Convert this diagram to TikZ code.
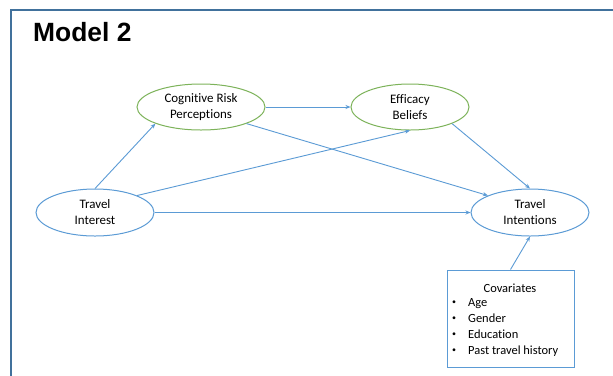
\documentclass[tikz,border=0pt]{standalone}
\usepackage{fontspec}
\setmainfont{Carlito}[Ligatures={NoCommon,NoRequired}]
\newfontfamily\titlefont{Liberation Sans}
\usetikzlibrary{shapes.geometric,arrows.meta}
\definecolor{framec}{HTML}{41719C}
\definecolor{greenc}{HTML}{7DB35A}
\definecolor{bluec}{HTML}{5B9BD5}
\newcommand{\smbul}{\raisebox{1.6bp}{\fontsize{8}{8}\selectfont\textbullet}}
\begin{document}
\begin{tikzpicture}[x=1bp,y=-1bp,
  oval/.style={ellipse, draw, line width=1bp, inner sep=0pt, align=center,
    font=\fontsize{13}{16}\selectfont},
  goval/.style={oval, draw=greenc},
  boval/.style={oval, draw=bluec},
  conn/.style={draw=bluec, line width=0.9bp, -{Stealth[length=5bp,width=4bp]}},
  covbox/.style={draw=bluec, line width=1bp, minimum width=127bp, minimum height=97bp, inner sep=0pt},
  txt/.style={inner sep=0pt, font=\fontsize{12.5}{16}\selectfont},
]
\useasboundingbox (0,0) rectangle (613,375);
\clip (0,0) rectangle (613,375);
\fill[white] (0,0) rectangle (613,375);
\draw[framec, line width=2bp] (11,10) rectangle (660,420);

\node[inner sep=0pt, anchor=base west, font=\titlefont\bfseries\fontsize{26.5}{30}\selectfont] (title) at (33,41) {Model 2};

\node[goval, minimum width=128bp, minimum height=46bp] (crp) at (201,107) {Cognitive Risk\\Perceptions};
\node[goval, minimum width=118bp, minimum height=46bp] (eff) at (410,107) {Efficacy\\Beliefs};
\node[boval, minimum width=118bp, minimum height=47bp] (int) at (95,212.5) {Travel\\Interest};
\node[boval, minimum width=118bp, minimum height=47bp] (itn) at (530,212.5) {Travel\\Intentions};

\node[covbox] (cov) at (510.5,318.5) {};
\node[txt] (covt) at (510,288) {Covariates};
\node[txt, anchor=north west] (covl) at (452,295)
  {\renewcommand\arraystretch{1}\begin{tabular}{@{}l@{\hspace{12bp}}l@{}}
   \smbul & Age\\
   \smbul & Gender\\
   \smbul & Education\\
   \smbul & Past travel history
   \end{tabular}};

\draw[conn] (int.north) -- (crp.south west);
\draw[conn] (int.north east) -- (eff.south);
\draw[conn] (crp.east) -- (eff.west);
\draw[conn] (crp.south east) -- (itn.north west);
\draw[conn] (eff.south east) -- (itn.north);
\draw[conn] (int.east) -- (itn.west);
\draw[conn] (cov.north) -- (itn.south);
\end{tikzpicture}
\end{document}
